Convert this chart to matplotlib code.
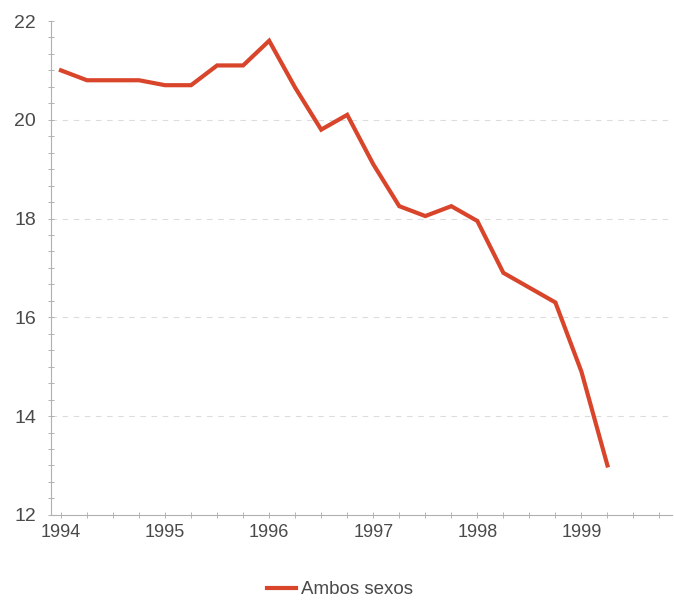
import numpy as np
import matplotlib
matplotlib.use('Agg')
import matplotlib.pyplot as plt
from matplotlib.ticker import MultipleLocator

# datos trimestrales, ambos sexos
trimestres = [1994.00, 1994.25, 1994.50, 1994.75,
              1995.00, 1995.25, 1995.50, 1995.75,
              1996.00, 1996.25, 1996.50, 1996.75,
              1997.00, 1997.25, 1997.50, 1997.75,
              1998.00, 1998.25, 1998.50, 1998.75,
              1999.00, 1999.25]
ambos_sexos = [21.0, 20.8, 20.8, 20.8,
               20.7, 20.7, 21.1, 21.1,
               21.6, 20.65, 19.8, 20.1,
               19.1, 18.25, 18.05, 18.25,
               17.95, 16.9, 16.6, 16.3,
               14.9, 13.0]
anios = [1994, 1995, 1996, 1997, 1998, 1999]
y_ticks = [12, 14, 16, 18, 20, 22]

plt.rcParams['font.family'] = ['Liberation Sans', 'DejaVu Sans']

fig = plt.figure(figsize=(6.74, 6.0), dpi=100)
ax = fig.add_axes([0.075, 0.142, 0.922, 0.823])

ax.plot(trimestres, ambos_sexos, color='#d8452b', linewidth=3.0,
        solid_joinstyle='miter', label='Ambos sexos')

ax.set_xlim(1993.9, 1999.87)
ax.set_ylim(12, 22)

ax.set_xticks(anios)
ax.set_xticklabels([str(a) for a in anios])
ax.xaxis.set_minor_locator(MultipleLocator(0.25))
ax.set_yticks(y_ticks)
ax.yaxis.set_minor_locator(MultipleLocator(1 / 3))

# rejilla punteada muy suave
for v in y_ticks[1:-1]:
    ax.axhline(v, color='#dcdcdc', linewidth=0.8, linestyle=(0, (5, 5)), zorder=0)

for side in ['top', 'right']:
    ax.spines[side].set_visible(False)
for side in ['left', 'bottom']:
    ax.spines[side].set_color('#b0b0b0')
    ax.spines[side].set_linewidth(0.8)

ax.tick_params(axis='both', which='both', direction='inout', color='#a8a8a8', width=0.6)
ax.tick_params(axis='both', which='major', length=5)
ax.tick_params(axis='both', which='minor', length=4)
ax.tick_params(axis='x', which='major', labelsize=13, labelcolor='#4a4a4a', pad=4)
ax.tick_params(axis='y', which='major', labelsize=14, labelcolor='#4a4a4a', pad=8)

fig.legend(loc='center', bbox_to_anchor=(0.505, 0.017), frameon=False,
           fontsize=13.5, handlelength=1.5, handletextpad=0.3, labelcolor='#4a4a4a')

plt.savefig('out.png', dpi=100)
plt.close()
